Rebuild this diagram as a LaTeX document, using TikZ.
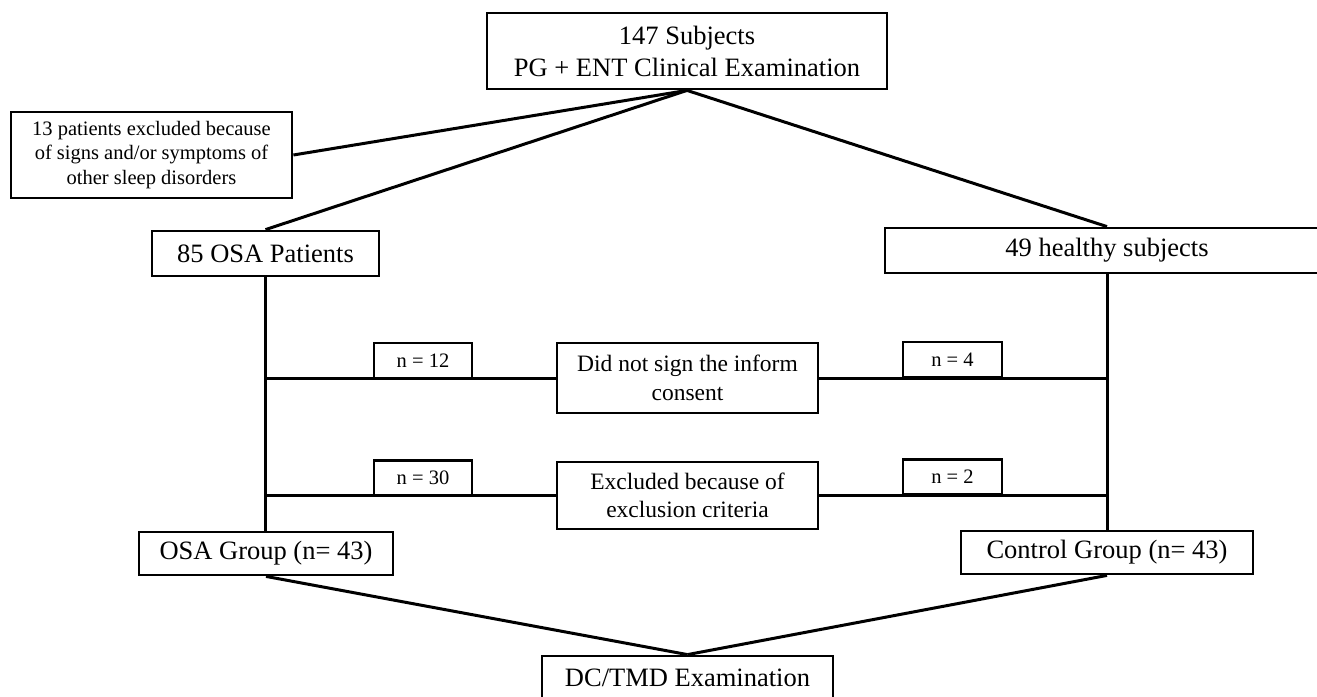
\documentclass[tikz,border=0pt]{standalone}
\usepackage{fontspec}
\setmainfont{Liberation Serif}
\begin{document}
\begin{tikzpicture}[x=1pt,y=-1pt,
  box/.style={draw, line width=2.8pt, fill=white, inner sep=0pt, align=center},
  big/.style={font=\fontsize{26.5}{32}\selectfont},
  mid/.style={font=\fontsize{23.5}{28.5}\selectfont},
  small/.style={font=\fontsize{20.5}{24.5}\selectfont},
  nfont/.style={font=\fontsize{20.5}{22}\selectfont},
  conn/.style={line width=3pt}]
\useasboundingbox (0,0) rectangle (1317,696);
% nodes
\node[box,big,minimum width=400pt,minimum height=76pt] (top) at (687,51) {147 Subjects\\PG + ENT Clinical Examination};
\node[box,small,minimum width=281pt,minimum height=86pt] (excl) at (151.5,155) {13 patients excluded because\\of signs and/or symptoms of\\other sleep disorders};
\node[box,big,minimum width=227pt,minimum height=45pt] (osa) at (265.5,253.5) {85 OSA Patients};
\node[box,big,minimum width=444pt,minimum height=45pt] (healthy) at (1107,250.5) {49 healthy subjects};
\node[box,mid,minimum width=261pt,minimum height=70pt] (dns) at (687.5,378) {Did not sign the inform\\consent};
\node[box,mid,minimum width=261pt,minimum height=67pt] (excr) at (687.5,495.5) {Excluded because of\\exclusion criteria};
\node[box,big,minimum width=254pt,minimum height=43pt] (osag) at (266,553.5) {OSA Group (n= 43)};
\node[box,big,minimum width=292pt,minimum height=43pt] (ctrl) at (1107,552.5) {Control Group (n= 43)};
\node[box,big,minimum width=291pt,minimum height=44pt] (dc) at (687.5,678) {DC/TMD Examination};
% connectors
\draw[conn] (top.south) -- (excl.east);
\draw[conn] (top.south) -- (osa.north);
\draw[conn] (top.south) -- (healthy.north);
\draw[conn] (osa.south) -- (osa.south |- osag.north);
\draw[conn] (healthy.south) -- (healthy.south |- ctrl.north);
\draw[conn] (osa.south |- dns.west) -- (dns.west);
\draw[conn] (dns.east) -- (healthy.south |- dns.east);
\draw[conn] (osa.south |- excr.west) -- (excr.west);
\draw[conn] (excr.east) -- (healthy.south |- excr.east);
\draw[conn] (osag.south) -- (dc.north);
\draw[conn] (ctrl.south) -- (dc.north);
% count boxes
\node[box,nfont,minimum width=98pt,minimum height=35pt] (n12) at (423,360.5) {n = 12};
\node[box,nfont,minimum width=99pt,minimum height=35pt] (n4) at (952.5,359.5) {n = 4};
\node[box,nfont,minimum width=98pt,minimum height=35pt] (n30) at (423,478) {n = 30};
\node[box,nfont,minimum width=99pt,minimum height=35pt] (n2) at (952.5,477) {n = 2};
\end{tikzpicture}
\end{document}
